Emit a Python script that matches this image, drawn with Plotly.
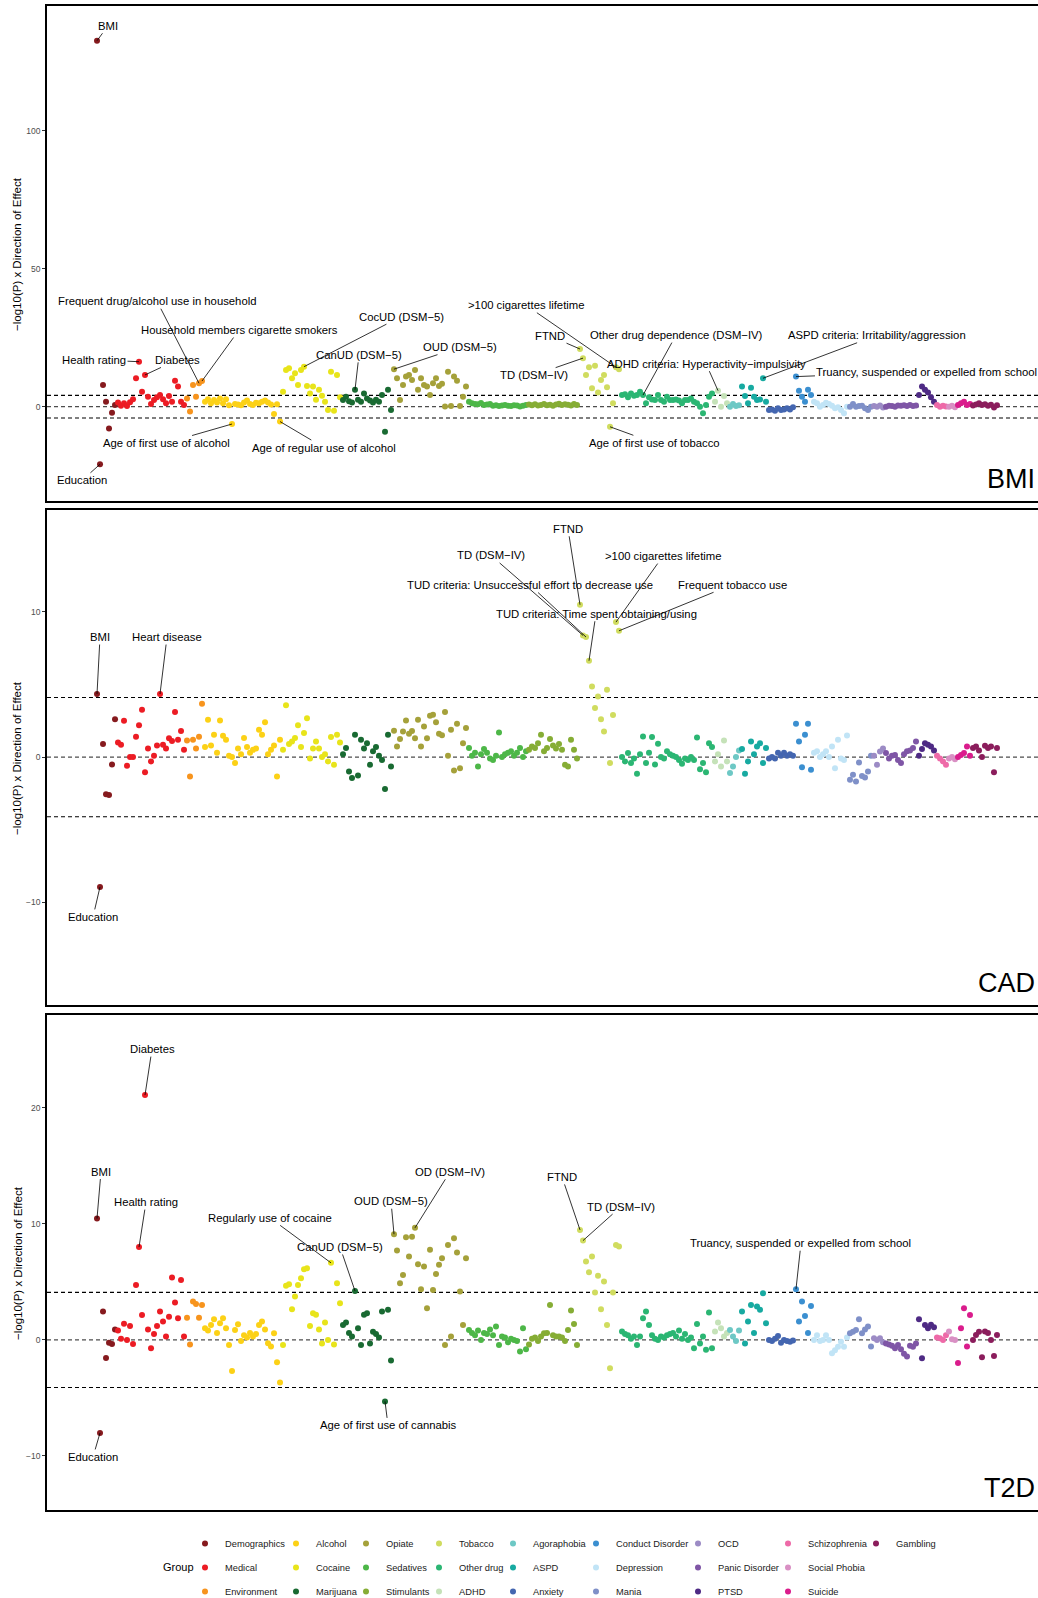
import plotly.graph_objects as go

# ---------------------------------------------------------------------------
# Phenotype groups (in plotting order) and their colours
# ---------------------------------------------------------------------------
groups = ["Demographics", "Medical", "Environment", "Alcohol", "Cocaine",
          "Marijuana", "Opiate", "Sedatives", "Stimulants", "Tobacco",
          "Other drug", "ADHD", "Agoraphobia", "ASPD", "Anxiety",
          "Conduct Disorder", "Depression", "Mania", "OCD", "Panic Disorder",
          "PTSD", "Schizophrenia", "Social Phobia", "Suicide", "Gambling"]

group_colors = ["#861A1E", "#EC1C24", "#F7941D", "#FCD116", "#E8E41A",
                "#196A32", "#A5A13A", "#4DB748", "#86AD35", "#D0DC5F",
                "#2BB673", "#C5E2B8", "#6DC8C5", "#17AAA1", "#4466B0",
                "#3B8FD0", "#C1E4F6", "#7F90C8", "#9C8BC5", "#7F56A6",
                "#4E2A84", "#EE6AA8", "#D990C4", "#DA1C8C", "#8B1D5C"]

# ---------------------------------------------------------------------------
# Signed -log10(P) per phenotype, for each trait (phenotypes in group order)
# ---------------------------------------------------------------------------
bmi_logp = {
    "Demographics": [132.7, -20.9, 7.9, 1.8, -7.9, -2.2, 0.6],
    "Medical": [1.5, 0.3, 1.2, 0.2, 1.6, 2.7, 10.3, 16.3, 5.4, 11.5, 3.6, 1.0,
                2.4, 3.4, 4.2, 2.7, 1.2, 3.9, 1.8, 9.4, 7.3, 1.8, 0.6],
    "Environment": [3.0, -1.8, 7.9, 3.6, 8.5, 9.3],
    "Alcohol": [1.8, 2.7, 1.2, 2.4, 1.5, 3.0, 1.2, 2.7, 0.5, -6.3, 1.0, 0.8, 0.5,
                1.5, 2.2, 1.0, 0.6, 1.4, 1.2, 1.8, 2.2, 1.5, 0.8, -2.7, 0.9, -5.4],
    "Cocaine": [5.4, 13.3, 13.9, 10.3, 12.1, 7.9, 13.3, 14.5, 7.5, 4.8, 7.3, 2.5,
                6.1, 4.0, 1.8, -1.2, 12.7, -1.5, 11.5, 3.4],
    "Marijuana": [2.4, 3.6, 2.0, 1.5, 6.1, 2.5, 1.8, 4.8, 3.0, 2.2, 1.5, 2.5, 1.8,
                  4.2, -9.1, 6.1, -1.2],
    "Opiate": [13.6, 10.3, 2.4, 7.9, 10.9, 11.5, 9.7, 13.3, 6.1, 10.3, 7.9, 7.3,
               4.2, 8.5, 10.3, 7.5, 8.3, 0.1, 12.7, 0.2, 10.9, 9.4, 0.2, 3.6, 7.3],
    "Sedatives": [1.8, 1.2, 1.0, 0.9, 1.3, 0.6, 0.8, 1.0, 0.3, 0.5, 0.2, 0.4, 0.6,
                  0.3, 0.2, 0.5, 0.4, 0.1, 0.3, 0.6],
    "Stimulants": [0.8, 0.5, 0.9, 0.4, 0.6, 1.0, 0.5, 0.7, 0.3, 0.8, 1.1, 0.6, 0.9,
                   0.7, 0.4, 1.0, 0.6],
    "Tobacco": [20.9, 17.6, 11.5, 14.3, 6.7, 14.8, 5.1, 9.7, 11.5, 7.0, -7.3, 1.2,
                14.3, 13.6],
    "Other drug": [4.2, 4.5, 3.4, 4.8, 4.0, 4.2, 5.4, 4.2, 1.2, 3.4, 2.6, 2.4, 4.2,
                   2.4, 1.8, 3.6, 2.4, 2.4, 2.6, 2.2, 1.2, 2.4, 2.4, 3.0, 1.8, 1.2,
                   0.0, -2.4, 0.6, 3.6, 4.8],
    "ADHD": [1.8, 5.8, 0.0, 3.9, 1.2],
    "Agoraphobia": [0.0, 1.0, 0.2, 0.5],
    "ASPD": [7.3, 3.9, 1.2, 6.9, 3.6, 2.4, 2.6, 10.3, 1.8],
    "Anxiety": [-1.2, -1.0, -1.5, -0.6, -1.2, -1.0, -0.6, -1.0, -0.2],
    "Conduct Disorder": [10.9, 5.8, 3.6, 1.8, 6.1, 4.2],
    "Depression": [1.8, 1.2, 0.0, 0.6, 1.4, 1.0, 0.3, -0.6, -0.2, -1.2, -2.4, 0.0],
    "Mania": [0.0, 1.0, 0.0, 0.2, 0.3, -0.6, -1.2, 0.0],
    "OCD": [0.2, 0.0, 0.4, -0.3],
    "Panic Disorder": [0.0, 0.3, 0.2, 0.0, 0.4, 0.3, 0.5, 0.2, 0.6, 0.2, 0.4],
    "PTSD": [4.2, 7.3, 6.1, 5.1, 3.4, 1.8],
    "Schizophrenia": [0.6, 0.0, 0.3, 0.1],
    "Social Phobia": [0.0, 0.3, -0.2],
    "Suicide": [0.6, 1.2, 1.8, 0.6, 1.0],
    "Gambling": [0.4, 0.8, 1.2, 0.6, 0.9, 0.3, 0.7, -0.3, 0.5],
}

cad_logp = {
    "Demographics": [4.34, -8.93, 0.9, -2.55, -2.6, -0.5, 2.6],
    "Medical": [1.0, 0.85, 2.5, -0.6, 0.0, 0.0, 1.4, 2.2, 3.26, -1.05, 0.6, -0.3,
                0.1, 0.8, 4.34, 0.85, 0.6, 1.3, 1.1, 3.1, 1.2, 1.8, 0.5],
    "Environment": [1.15, -1.33, 1.2, 0.6, 1.4, 3.67],
    "Alcohol": [0.7, 2.57, 0.8, 1.54, 0.3, 2.52, 1.47, 1.2, 0.1, 0.0, -0.41, 0.6,
                0.2, 1.31, 0.7, 0.3, 0.5, 0.6, 1.88, 1.54, 2.39, 0.2, 0.5, 0.8,
                -1.33, 1.19],
    "Cocaine": [0.5, 3.56, 0.9, 1.08, 1.31, 2.2, 0.7, 1.65, 2.68, -0.1, 0.6, 1.08,
                0.6, 0.0, 0.2, -0.3, 1.38, -0.53, 1.54, 1.0],
    "Marijuana": [0.2, 0.62, -0.99, -1.44, 1.54, -1.26, 1.19, 0.6, 0.96, -0.53,
                  0.4, 0.7, 0.1, -0.2, -2.2, 1.54, -0.64],
    "Opiate": [1.81, 0.73, 1.24, 1.77, 2.52, 1.6, 1.8, 1.3, 2.57, 0.73, 2.11, 1.3,
               2.84, 2.91, 2.4, 1.6, 1.5, 3.1, 0.1, 1.88, -0.92, 2.29, -0.76, 0.96,
               2.0],
    "Sedatives": [0.62, 0.1, 0.3, -0.64, 0.2, 0.55, 0.3, -0.1, -0.2, 0.1, 1.7, 0.0,
                  0.2, 0.3, 0.4, 0.1, 0.3, 0.62, 0.0, 0.4],
    "Stimulants": [0.5, 0.73, 0.62, 0.96, 1.54, 0.4, 0.62, 1.24, 0.8, 0.6, 0.9, 0.5,
                   -0.53, -0.64, 1.19, 0.5, -0.1],
    "Tobacco": [10.48, 8.37, 8.26, 6.63, 4.86, 3.37, 4.17, 2.6, 1.77, 4.63, -0.41,
                2.9, 9.29, 8.69],
    "Other drug": [0.0, -0.3, 0.28, -0.4, -0.1, -1.15, 0.2, 1.42, -0.4, 0.3, 1.38,
                   -0.5, 0.92, 0.0, -0.1, 0.4, 0.2, 0.1, 0.0, -0.2, -0.46, -0.1,
                   -0.2, 0.0, -0.2, 1.35, -0.83, -0.4, -1.05, 0.96, 0.69],
    "ADHD": [-0.3, 0.2, -0.64, 1.15, -0.3],
    "Agoraphobia": [-1.1, -0.64, 0.0, 0.46],
    "ASPD": [0.55, -1.15, -0.3, 1.08, 0.2, 0.73, 0.96, -0.41, 0.62],
    "Anxiety": [-0.1, 0.0, -0.1, 0.3, 0.1, 0.3, 0.1, 0.2, 0.1],
    "Conduct Disorder": [2.29, 1.08, -0.69, 1.54, 2.29, -0.87],
    "Depression": [0.3, 0.4, 0.0, 0.2, 0.4, 0.0, 0.73, -0.76, 1.19, -0.1, -0.2, 1.49],
    "Mania": [-1.56, -1.22, -1.67, -0.37, -1.3, -1.4, -0.99, 0.1],
    "OCD": [0.1, -0.53, 0.39, 0.6],
    "Panic Disorder": [0.28, -0.1, 0.1, 0.15, -0.2, -0.41, 0.2, 0.4, 0.46, 0.62, 1.08],
    "PTSD": [0.1, 0.55, 0.96, 0.85, 0.73, 0.46],
    "Schizophrenia": [0.1, -0.1, -0.3, -0.53],
    "Social Phobia": [-0.1, 0.0, -0.15],
    "Suicide": [0.0, 0.15, 0.28, 0.73, 0.1],
    "Gambling": [0.62, 0.73, 0.46, 0.0, 0.78, 0.62, 0.73, -1.05, 0.62],
}

t2d_logp = {
    "Demographics": [10.46, -8.02, 2.44, -1.55, -0.25, -0.35, 0.9],
    "Medical": [0.8, 0.1, 1.4, 0.0, 1.2, -0.35, 4.74, 8.0, 2.15, 21.1, 0.9, -0.72,
                0.5, 1.2, 2.44, 1.58, 0.3, 2.0, 5.37, 3.22, 1.87, 5.17, 0.3],
    "Environment": [1.9, -0.4, 3.3, 3.1, 1.9, 3.0],
    "Alcohol": [1.0, 0.8, 1.29, 1.78, 0.6, 1.44, 1.87, 1.0, -0.43, -2.67, 0.86,
                1.35, -0.1, 0.4, 0.2, 0.6, 0.3, 0.5, 1.29, 1.58, 0.9, -0.29, -0.57,
                0.57, -1.93, -3.68],
    "Cocaine": [-0.43, 4.66, 4.8, 2.64, 3.74, 4.74, 5.32, 6.09, 6.18, 1.2, 2.3,
                2.16, 0.9, -0.3, 1.49, 0.0, 6.64, -0.4, 4.89, 3.16],
    "Marijuana": [1.29, 1.49, 0.6, 0.3, 4.22, 1.0, -0.43, 2.16, 2.3, -0.3, 0.7, 0.5,
                  0.2, 2.44, -5.3, 2.59, -1.78],
    "Opiate": [9.11, 7.7, 4.89, 5.6, 8.85, 7.18, 8.9, 9.66, 6.52, 4.37, 6.32, 2.73,
               7.76, 4.31, 5.69, 6.47, 7.04, -0.43, 8.19, 0.3, 8.76, 7.53, 4.17,
               1.29, 7.04],
    "Sedatives": [0.86, 0.6, 0.4, 0.8, 0.0, 0.6, 0.5, 0.9, 0.4, 1.15, -0.43, 0.3,
                  0.2, -0.2, 0.1, 0.0, -0.1, -1.0, 1.0, -0.8],
    "Stimulants": [-0.4, 0.1, 0.2, -0.1, 0.3, 0.57, 0.6, 3.0, 0.4, 0.3, 0.3, 0.2,
                   -0.1, 0.86, 2.53, 1.38, -0.43],
    "Tobacco": [9.48, 8.56, 6.75, 5.83, 7.18, 4.08, 5.52, 2.64, 5.03, 1.29, -2.44,
                4.08, 8.19, 8.05],
    "Other drug": [0.72, 0.5, 0.4, 0.1, 0.3, -0.43, 0.3, 1.87, 2.44, 1.29, 0.4, 0.1,
                   0.0, 0.3, 0.2, 0.4, 0.5, 0.6, 0.3, 0.8, 0.1, 0.5, 0.0, 0.2, -0.72,
                   1.38, -0.3, 0.3, -0.85, 2.36, -0.72],
    "ADHD": [0.72, 1.49, 1.0, 0.3, 0.6],
    "Agoraphobia": [0.86, 0.3, -0.1, 0.8],
    "ASPD": [2.44, -0.3, 1.58, 3.0, 0.6, 2.87, 2.59, 4.02, 1.44],
    "Anxiety": [0.0, -0.1, 0.1, 0.34, -0.25, 0.0, -0.1, -0.15, -0.05],
    "Conduct Disorder": [4.37, 1.58, 3.3, 2.07, 0.6, 2.93],
    "Depression": [0.0, 0.4, -0.1, 0.0, 0.4, 0.0, -1.15, -0.9, -0.6, -0.15, -0.6, 0.2],
    "Mania": [0.57, 0.7, 0.86, 1.78, 0.57, 0.9, 1.15, -0.57],
    "OCD": [0.15, 0.0, 0.15, -0.2],
    "Panic Disorder": [-0.3, -0.4, -0.5, -0.72, -0.45, -0.8, -1.2, -1.44, -0.5, -0.6,
                       -0.3],
    "PTSD": [1.78, -1.58, 1.29, 1.0, 1.3, 1.1],
    "Schizophrenia": [0.2, 0.15, 0.0, 0.4],
    "Social Phobia": [0.72, 0.05, 0.0],
    "Suicide": [-2.0, 1.0, 2.73, -0.57, 2.15],
    "Gambling": [0.0, 0.43, 0.7, -1.49, 0.72, 0.6, 0.0, -1.38, 0.43],
}

traits = ["BMI", "CAD", "T2D"]
trait_values = {"BMI": bmi_logp, "CAD": cad_logp, "T2D": t2d_logp}

# Bonferroni-style significance line, -log10(0.05 / n_tests)
threshold = 4.1

# Labelled phenotypes: trait, group, position within group, label, text offset (px)
labels = [
    ("BMI", "Demographics", 0, "BMI", 11, -15),
    ("BMI", "Demographics", 1, "Education", -18, 16),
    ("BMI", "Medical", 7, "Health rating", -45, -2),
    ("BMI", "Medical", 9, "Diabetes", 32, -15),
    ("BMI", "Environment", 4, "Frequent drug/alcohol use in household", -42, -82),
    ("BMI", "Environment", 5, "Household members cigarette smokers", 37, -51),
    ("BMI", "Cocaine", 7, "CocUD (DSM−5)", 97, -50),
    ("BMI", "Marijuana", 4, "CanUD (DSM−5)", 4, -35),
    ("BMI", "Opiate", 0, "OUD (DSM−5)", 66, -22),
    ("BMI", "Alcohol", 9, "Age of first use of alcohol", -66, 19),
    ("BMI", "Alcohol", 25, "Age of regular use of alcohol", 44, 26),
    ("BMI", "Tobacco", 12, ">100 cigarettes lifetime", -90, -62),
    ("BMI", "Tobacco", 0, "FTND", -30, -13),
    ("BMI", "Tobacco", 1, "TD (DSM−IV)", -49, 17),
    ("BMI", "Other drug", 7, "Other drug dependence (DSM−IV)", 33, -60),
    ("BMI", "ADHD", 1, "ADHD criteria: Hyperactivity−impulsivity", -12, -27),
    ("BMI", "ASPD", 7, "ASPD criteria: Irritability/aggression", 114, -43),
    ("BMI", "Conduct Disorder", 0, "Truancy, suspended or expelled from school", 131, -5),
    ("BMI", "Tobacco", 10, "Age of first use of tobacco", 44, 16),
    ("CAD", "Demographics", 0, "BMI", 3, -57),
    ("CAD", "Medical", 14, "Heart disease", 7, -57),
    ("CAD", "Demographics", 1, "Education", -7, 30),
    ("CAD", "Tobacco", 0, "FTND", -12, -76),
    ("CAD", "Tobacco", 1, "TD (DSM−IV)", -92, -80),
    ("CAD", "Tobacco", 2, "TUD criteria: Unsuccessful effort to decrease use", -56, -52),
    ("CAD", "Tobacco", 3, "TUD criteria: Time spent obtaining/using", 7, -47),
    ("CAD", "Tobacco", 12, ">100 cigarettes lifetime", 47, -66),
    ("CAD", "Tobacco", 13, "Frequent tobacco use", 113, -46),
    ("T2D", "Medical", 9, "Diabetes", 7, -46),
    ("T2D", "Demographics", 0, "BMI", 4, -47),
    ("T2D", "Medical", 7, "Health rating", 7, -45),
    ("T2D", "Demographics", 1, "Education", -7, 24),
    ("T2D", "Cocaine", 16, "Regularly use of cocaine", -61, -45),
    ("T2D", "Marijuana", 4, "CanUD (DSM−5)", -15, -44),
    ("T2D", "Opiate", 0, "OUD (DSM−5)", -3, -33),
    ("T2D", "Opiate", 7, "OD (DSM−IV)", 35, -56),
    ("T2D", "Marijuana", 14, "Age of first use of cannabis", 3, 24),
    ("T2D", "Tobacco", 0, "FTND", -18, -53),
    ("T2D", "Tobacco", 1, "TD (DSM−IV)", 38, -34),
    ("T2D", "Conduct Disorder", 0, "Truancy, suspended or expelled from school", 5, -46),
]

# ---------------------------------------------------------------------------
# Layout constants
# ---------------------------------------------------------------------------
W, H = 1038, 1598
FONT = "Liberation Sans, Arial, Helvetica, sans-serif"
y_ranges = {"BMI": [-34.2, 145.3], "CAD": [-17.05, 17.0], "T2D": [-14.66, 28.0]}
y_ticks = {"BMI": [0, 50, 100], "CAD": [-10, 0, 10], "T2D": [-10, 0, 10, 20]}
y_domains = {"BMI": [0.6709, 1.0], "CAD": [0.3358, 0.6649], "T2D": [0.0, 0.3291]}
x_range = [-16.67, 313.67]

# phenotype positions along the x axis, sequential across groups
group_start = {}
pos = 0
for g in groups:
    group_start[g] = pos
    pos += len(bmi_logp[g])

fig = go.Figure()

for p, trait in enumerate(traits):
    suffix = "" if p == 0 else str(p + 1)
    vals = trait_values[trait]
    for k, g in enumerate(groups):
        ys = vals[g]
        xs = [group_start[g] + i for i in range(len(ys))]
        col = k // 3
        fig.add_trace(go.Scatter(
            x=xs, y=ys, mode="markers", name=g,
            marker=dict(color=group_colors[k], size=6, line=dict(width=0)),
            xaxis="x" + suffix, yaxis="y" + suffix,
            legendgroup=g, showlegend=(p == 0),
            legend="legend" if col == 0 else "legend%d" % (col + 1),
            hovertemplate=g + "<br>%{y}<extra>" + trait + "</extra>",
        ))

layout = dict(
    width=W, height=H, autosize=False,
    margin=dict(l=47, r=0, t=6, b=88, autoexpand=False),
    paper_bgcolor="white", plot_bgcolor="white",
    font=dict(family=FONT, color="black"),
    shapes=[], annotations=[],
)

for p, trait in enumerate(traits):
    suffix = "" if p == 0 else str(p + 1)
    layout["xaxis" + suffix] = dict(
        domain=[0, 1], range=x_range, anchor="y" + suffix,
        showticklabels=False, ticks="", showgrid=False, zeroline=False,
        showline=True, mirror=True, linecolor="black", linewidth=1.6,
    )
    layout["yaxis" + suffix] = dict(
        domain=y_domains[trait], range=y_ranges[trait], anchor="x" + suffix,
        tickvals=y_ticks[trait], ticks="outside", ticklen=3, tickwidth=1,
        tickcolor="#333333", tickfont=dict(size=8.5, color="#4D4D4D", family=FONT),
        showgrid=False, zeroline=False,
        showline=True, mirror=False, linecolor="black", linewidth=1.6,
    )
    # reference lines: zero and +/- significance threshold
    for yv, colr in [(threshold, "black"), (0, "#4D4D4D"), (-threshold, "black")]:
        layout["shapes"].append(dict(
            type="line", xref="x%s domain" % suffix, yref="y" + suffix,
            x0=0, x1=1, y0=yv, y1=yv, layer="below",
            line=dict(color=colr, width=1.1, dash="4px,3px"),
        ))
    # y-axis title
    d0, d1 = y_domains[trait]
    layout["annotations"].append(dict(
        text="−log10(P) x Direction of Effect", textangle=-90,
        xref="paper", yref="paper", x=-0.0298, y=(d0 + d1) / 2,
        xanchor="center", yanchor="middle", showarrow=False,
        font=dict(size=11.5, color="black", family=FONT),
    ))
    # trait name in the lower-right corner of the panel
    layout["annotations"].append(dict(
        text=trait, xref="paper", yref="paper", x=1, y=d0 + 0.0146,
        xanchor="right", yanchor="middle", xshift=-1, showarrow=False,
        font=dict(size=27, color="black", family=FONT),
    ))

# labelled phenotypes with leader lines
for trait, g, i, text, ax, ay in labels:
    p = traits.index(trait)
    suffix = "" if p == 0 else str(p + 1)
    layout["annotations"].append(dict(
        text=text, x=group_start[g] + i, y=trait_values[trait][g][i],
        xref="x" + suffix, yref="y" + suffix,
        ax=ax, ay=ay, axref="pixel", ayref="pixel",
        showarrow=True, arrowhead=0, arrowwidth=0.8, arrowcolor="black",
        standoff=0, startstandoff=0,
        font=dict(size=11.3, color="black", family=FONT),
    ))

# legend: one column per three groups, laid out like a wrapped key
legend_left_px = [185, 276, 346, 419, 493, 576, 678, 768, 856]
for c, lx in enumerate(legend_left_px):
    key = "legend" if c == 0 else "legend%d" % (c + 1)
    layout[key] = dict(
        x=lx / W, y=1 - 1529 / H, xref="container", yref="container",
        xanchor="left", yanchor="top", orientation="v",
        bgcolor="rgba(0,0,0,0)", borderwidth=0, tracegroupgap=5,
        font=dict(size=9.3, color="#1A1A1A", family=FONT),
        itemwidth=30,
    )

layout["annotations"].append(dict(
    text="Group", xref="paper", yref="paper", x=(178 - 47) / 991,
    y=(1510 - 1567) / 1504, xanchor="center", yanchor="middle",
    showarrow=False, font=dict(size=11, color="black", family=FONT),
))

fig.update_layout(**layout)
fig.write_html("out.html")
